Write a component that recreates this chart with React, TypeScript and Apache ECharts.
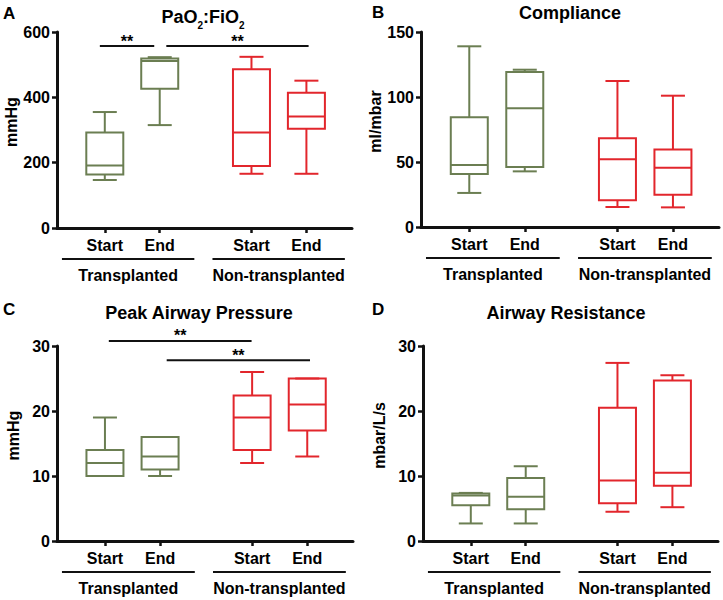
import React, { useEffect, useRef } from 'react';
import * as echarts from 'echarts';

// ---------------- data ----------------
const conditions = ['Start', 'End', 'Start', 'End'];
const groupNames = ['Transplanted', 'Non-transplanted'];
const positions = [1, 2, 3.67, 4.67];
const groupSpans = [[0.22, 2.63], [2.96, 5.37]];

const panelLetters = ['A', 'B', 'C', 'D'];
const yNames = ['mmHg', 'ml/mbar', 'mmHg', 'mbar/L/s'];
const yMaxes = [600, 150, 30, 30];
const yIntervals = [200, 50, 10, 10];

// each box: [min, Q1, median, Q3, max]
const pao2Transplanted = [[147, 164, 191, 292, 355], [315, 426, 511, 519, 523]];
const pao2NonTransplanted = [[166, 190, 292, 486, 524], [166, 304, 341, 414, 451]];
const complianceTransplanted = [[26.2, 40.8, 47.7, 84.4, 139], [42.8, 46.2, 91.3, 119.2, 121]];
const complianceNonTransplanted = [[15.4, 20.5, 52.1, 68.2, 112.3], [15.1, 24.9, 45.6, 59.7, 101]];
const pawTransplanted = [[10, 10, 12, 14, 19], [10, 11, 13, 16, 16]];
const pawNonTransplanted = [[12, 14, 19, 22.4, 26], [13, 17, 21, 25, 25]];
const rawTransplanted = [[2.7, 5.5, 7.0, 7.3, 7.4], [2.7, 4.9, 6.8, 9.7, 11.5]];
const rawNonTransplanted = [[4.5, 5.8, 9.3, 20.5, 27.4], [5.2, 8.5, 10.5, 24.7, 25.5]];

// significance bars: [x from, x to, y]
const sigA = [[0.91, 1.9, 557], [2.12, 4.71, 557]];
const sigC = [[1.07, 3.66, 30.77], [2.12, 4.72, 27.8]];
const sigLabel = '**';

const panelTransplanted = [pao2Transplanted, complianceTransplanted, pawTransplanted, rawTransplanted];
const panelNon = [pao2NonTransplanted, complianceNonTransplanted, pawNonTransplanted, rawNonTransplanted];
const panelSig = [sigA, null, sigC, null];

// ---------------- styles / layout ----------------
const FONT = '"Liberation Sans", Arial, Helvetica, sans-serif';
const GREEN = '#6b7e52';
const RED = '#e2262c';
const AXIS = '#111';

const grids = [
  { left: 57, top: 32, width: 295, height: 196 },
  { left: 421, top: 32, width: 298, height: 195 },
  { left: 57, top: 346, width: 296, height: 195 },
  { left: 423, top: 346, width: 295, height: 195 },
];
const xMin = 0.13;
const xMax = 5.5;

const titlePos = [
  { x: 203, y: 13 },
  { x: 570, y: 13 },
  { x: 199, y: 313 },
  { x: 566, y: 313 },
];
const letterPos = [
  { x: 3, y: 13 },
  { x: 372, y: 12 },
  { x: 3, y: 309 },
  { x: 372, y: 309 },
];

function boxRenderer(color: string) {
  return (params: any, api: any) => {
    const x = api.value(0);
    const py = (i: number) => api.coord([x, api.value(i)])[1];
    const cx = api.coord([x, 0])[0];
    const yMin = py(1), yQ1 = py(2), yMed = py(3), yQ3 = py(4), yMax = py(5);
    const bw = 37, cw = 24;
    const st = { stroke: color, lineWidth: 2, fill: 'none' };
    const children: any[] = [
      { type: 'rect', shape: { x: cx - bw / 2, y: yQ3, width: bw, height: yQ1 - yQ3 }, style: st },
      { type: 'line', shape: { x1: cx - bw / 2, y1: yMed, x2: cx + bw / 2, y2: yMed }, style: st },
      { type: 'line', shape: { x1: cx, y1: yQ3, x2: cx, y2: yMax }, style: st },
      { type: 'line', shape: { x1: cx, y1: yQ1, x2: cx, y2: yMin }, style: st },
      { type: 'line', shape: { x1: cx - cw / 2, y1: yMax, x2: cx + cw / 2, y2: yMax }, style: st },
      { type: 'line', shape: { x1: cx - cw / 2, y1: yMin, x2: cx + cw / 2, y2: yMin }, style: st },
    ];
    return { type: 'group', children };
  };
}

function bracketRenderer(params: any, api: any) {
  const p1 = api.coord([api.value(0), 0]);
  const p2 = api.coord([api.value(1), 0]);
  const name = groupNames[api.value(2)];
  const yLine = p1[1] + 31;
  const yText = p1[1] + 47;
  return {
    type: 'group',
    children: [
      { type: 'line', shape: { x1: p1[0], y1: yLine, x2: p2[0], y2: yLine }, style: { stroke: AXIS, lineWidth: 2 } },
      {
        type: 'text',
        x: (p1[0] + p2[0]) / 2,
        y: yText,
        style: {
          text: name,
          fill: '#000',
          font: `bold 16px ${FONT}`,
          align: 'center',
          verticalAlign: 'middle',
        },
      },
    ],
  };
}

function sigRenderer(params: any, api: any) {
  const p1 = api.coord([api.value(0), api.value(2)]);
  const p2 = api.coord([api.value(1), api.value(2)]);
  return {
    type: 'group',
    children: [
      { type: 'line', shape: { x1: p1[0], y1: p1[1], x2: p2[0], y2: p2[1] }, style: { stroke: AXIS, lineWidth: 2 } },
      {
        type: 'text',
        x: (p1[0] + p2[0]) / 2,
        y: p1[1] + 3,
        style: {
          text: sigLabel,
          fill: '#000',
          font: `bold 16px ${FONT}`,
          align: 'center',
          verticalAlign: 'bottom',
        },
      },
    ],
  };
}

function buildOption() {
  const xAxis: any[] = [];
  const yAxis: any[] = [];
  const series: any[] = [];
  const graphic: any[] = [];

  for (let i = 0; i < 4; i++) {
    xAxis.push({
      gridIndex: i,
      type: 'value',
      min: xMin,
      max: xMax,
      axisLine: { show: true, onZero: false, lineStyle: { color: AXIS, width: 3 } },
      axisTick: { show: true, customValues: positions, length: 5, lineStyle: { color: AXIS, width: 2.5 } },
      axisLabel: {
        customValues: positions,
        formatter: (v: number) => {
          const idx = positions.findIndex((p) => Math.abs(p - v) < 1e-6);
          return idx >= 0 ? conditions[idx] : '';
        },
        fontSize: 16,
        fontWeight: 'bold',
        fontFamily: FONT,
        color: '#000',
        margin: 9,
      },
      splitLine: { show: false },
    });
    yAxis.push({
      gridIndex: i,
      type: 'value',
      min: 0,
      max: yMaxes[i],
      interval: yIntervals[i],
      name: yNames[i],
      nameLocation: 'middle',
      nameGap: 36,
      nameTextStyle: { fontSize: 16, fontWeight: 'bold', fontFamily: FONT, color: '#000', padding: [0, 0, 0, 16] },
      axisLine: { show: true, lineStyle: { color: AXIS, width: 3 } },
      axisTick: { show: true, length: 5, lineStyle: { color: AXIS, width: 2.5 } },
      axisLabel: { fontSize: 16, fontWeight: 'bold', fontFamily: FONT, color: '#000', margin: 7 },
      splitLine: { show: false },
    });

    series.push({
      type: 'custom',
      xAxisIndex: i,
      yAxisIndex: i,
      renderItem: boxRenderer(GREEN),
      data: panelTransplanted[i].map((b, j) => [positions[j], ...b]),
      silent: true,
    });
    series.push({
      type: 'custom',
      xAxisIndex: i,
      yAxisIndex: i,
      renderItem: boxRenderer(RED),
      data: panelNon[i].map((b, j) => [positions[j + 2], ...b]),
      silent: true,
    });
    series.push({
      type: 'custom',
      xAxisIndex: i,
      yAxisIndex: i,
      clip: false,
      renderItem: bracketRenderer,
      encode: { x: [0, 1], y: 3 },
      data: groupSpans.map((s, k) => [s[0], s[1], k, 0]),
      silent: true,
    });
    const sig = panelSig[i];
    if (sig) {
      series.push({
        type: 'custom',
        xAxisIndex: i,
        yAxisIndex: i,
        clip: false,
        renderItem: sigRenderer,
        encode: { x: [0, 1], y: 2 },
        data: sig,
        silent: true,
      });
    }

    graphic.push({
      type: 'text',
      x: letterPos[i].x,
      y: letterPos[i].y,
      style: {
        text: panelLetters[i],
        fill: '#000',
        font: `bold 17px ${FONT}`,
        align: 'left',
        verticalAlign: 'middle',
      },
    });
  }

  const titleStyle = { fill: '#000', font: `bold 18px ${FONT}`, align: 'center', verticalAlign: 'middle' };
  graphic.push({
    type: 'text',
    x: titlePos[0].x,
    y: titlePos[0].y + 4,
    style: {
      ...titleStyle,
      text: '{n|PaO}{s|2}{n|:FiO}{s|2}',
      rich: {
        n: { fontSize: 18, fontWeight: 'bold', fontFamily: FONT, fill: '#000' },
        s: { fontSize: 10, fontWeight: 'bold', fontFamily: FONT, fill: '#000', padding: [17, 0, 0, 0] },
      },
    },
  });
  graphic.push({ type: 'text', x: titlePos[1].x, y: titlePos[1].y, style: { ...titleStyle, text: 'Compliance' } });
  graphic.push({ type: 'text', x: titlePos[2].x, y: titlePos[2].y, style: { ...titleStyle, text: 'Peak Airway Pressure' } });
  graphic.push({ type: 'text', x: titlePos[3].x, y: titlePos[3].y, style: { ...titleStyle, text: 'Airway Resistance' } });

  return {
    animation: false,
    backgroundColor: '#fff',
    textStyle: { fontFamily: FONT },
    grid: grids.map((g) => ({ ...g, containLabel: false, outerBoundsMode: 'none' })),
    xAxis,
    yAxis,
    series,
    graphic,
  };
}

export default function App() {
  const ref = useRef<HTMLDivElement>(null);
  useEffect(() => {
    if (!ref.current) return;
    const chart = echarts.init(ref.current, undefined, { renderer: 'svg' });
    chart.setOption(buildOption() as any);
    return () => chart.dispose();
  }, []);
  return (
    <div
      ref={ref}
      style={{ position: 'absolute', left: 0, top: 0, width: 723, height: 600, background: '#fff' }}
    />
  );
}
